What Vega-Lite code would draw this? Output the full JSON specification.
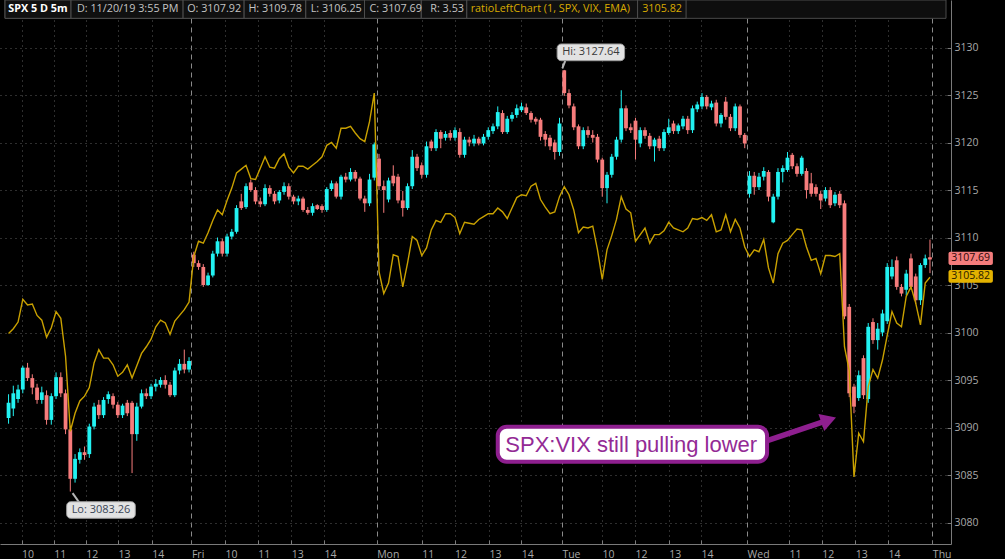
{
"$schema": "https://vega.github.io/schema/vega-lite/v6.json",
"width": 951, "height": 544,
"autosize": {"type": "none"},
"padding": {"left": 0, "top": 0, "right": 54, "bottom": 15},
"background": "#000000",
"view": {"stroke": null, "fill": "#000000"},
"datasets": {
"bars": [
{"j":0,"o":3091.0,"h":3093.5,"l":3090.4,"c":3092.6,"r":3099.9},
{"j":1,"o":3092.0,"h":3094.4,"l":3091.2,"c":3093.6,"r":3100.4},
{"j":2,"o":3093.0,"h":3094.5,"l":3092.6,"c":3094.0,"r":3101.1},
{"j":3,"o":3094.0,"h":3096.5,"l":3093.6,"c":3096.3,"r":3103.5},
{"j":4,"o":3096.3,"h":3096.8,"l":3094.9,"c":3095.2,"r":3102.9},
{"j":5,"o":3095.2,"h":3095.6,"l":3093.5,"c":3094.2,"r":3103.0},
{"j":6,"o":3094.2,"h":3094.6,"l":3092.5,"c":3092.9,"r":3101.8},
{"j":7,"o":3092.9,"h":3094.3,"l":3092.5,"c":3093.7,"r":3101.3},
{"j":8,"o":3093.4,"h":3093.9,"l":3090.3,"c":3090.8,"r":3099.5},
{"j":9,"o":3090.8,"h":3093.6,"l":3090.3,"c":3093.3,"r":3100.5},
{"j":10,"o":3093.3,"h":3095.8,"l":3093.0,"c":3095.3,"r":3102.2},
{"j":11,"o":3095.3,"h":3095.8,"l":3093.2,"c":3093.6,"r":3101.5},
{"j":12,"o":3093.6,"h":3094.0,"l":3089.3,"c":3089.8,"r":3097.5},
{"j":13,"o":3089.8,"h":3090.2,"l":3083.26,"c":3084.6,"r":3089.6},
{"j":14,"o":3084.6,"h":3087.2,"l":3084.2,"c":3086.7,"r":3091.5},
{"j":15,"o":3086.6,"h":3087.8,"l":3086.2,"c":3087.4,"r":3092.8},
{"j":16,"o":3087.4,"h":3088.0,"l":3086.6,"c":3087.1,"r":3093.3},
{"j":17,"o":3087.2,"h":3090.4,"l":3086.8,"c":3090.1,"r":3094.2},
{"j":18,"o":3090.1,"h":3092.6,"l":3089.8,"c":3092.2,"r":3096.8},
{"j":19,"o":3092.4,"h":3092.9,"l":3090.9,"c":3091.3,"r":3098.2},
{"j":20,"o":3091.3,"h":3093.2,"l":3091.0,"c":3092.9,"r":3097.3},
{"j":21,"o":3093.0,"h":3093.8,"l":3092.5,"c":3093.5,"r":3097.3},
{"j":22,"o":3093.3,"h":3093.6,"l":3092.0,"c":3092.4,"r":3096.6},
{"j":23,"o":3092.4,"h":3092.7,"l":3091.0,"c":3091.3,"r":3095.4},
{"j":24,"o":3091.3,"h":3092.5,"l":3091.0,"c":3092.3,"r":3095.8},
{"j":25,"o":3092.6,"h":3092.9,"l":3091.2,"c":3091.5,"r":3096.6},
{"j":26,"o":3092.6,"h":3092.8,"l":3085.2,"c":3089.3,"r":3095.2},
{"j":27,"o":3089.3,"h":3092.6,"l":3088.6,"c":3092.2,"r":3096.5},
{"j":28,"o":3092.2,"h":3094.0,"l":3092.0,"c":3093.6,"r":3097.8},
{"j":29,"o":3093.6,"h":3094.1,"l":3093.0,"c":3093.3,"r":3098.5},
{"j":30,"o":3093.3,"h":3094.6,"l":3093.0,"c":3094.3,"r":3099.3},
{"j":31,"o":3094.3,"h":3095.1,"l":3093.8,"c":3094.6,"r":3100.6},
{"j":32,"o":3094.5,"h":3095.3,"l":3094.2,"c":3095.0,"r":3101.3},
{"j":33,"o":3095.0,"h":3095.5,"l":3094.1,"c":3094.5,"r":3101.0},
{"j":34,"o":3094.5,"h":3094.8,"l":3093.2,"c":3093.4,"r":3099.8},
{"j":35,"o":3093.4,"h":3096.3,"l":3093.2,"c":3096.0,"r":3101.2},
{"j":36,"o":3096.0,"h":3097.2,"l":3095.6,"c":3096.7,"r":3101.8},
{"j":37,"o":3096.7,"h":3098.2,"l":3095.7,"c":3096.1,"r":3102.4},
{"j":38,"o":3096.1,"h":3097.4,"l":3095.8,"c":3097.0,"r":3103.2},
{"j":39,"o":3108.2,"h":3108.5,"l":3106.9,"c":3107.3,"r":3108.0},
{"j":40,"o":3107.3,"h":3107.6,"l":3106.6,"c":3106.9,"r":3109.6},
{"j":41,"o":3106.9,"h":3107.2,"l":3104.8,"c":3105.0,"r":3109.4},
{"j":42,"o":3105.0,"h":3106.3,"l":3104.9,"c":3106.0,"r":3110.5},
{"j":43,"o":3106.0,"h":3108.6,"l":3105.8,"c":3108.3,"r":3111.8},
{"j":44,"o":3108.3,"h":3110.0,"l":3108.0,"c":3109.6,"r":3112.9},
{"j":45,"o":3109.6,"h":3109.9,"l":3108.0,"c":3108.3,"r":3112.4},
{"j":46,"o":3108.3,"h":3110.4,"l":3108.0,"c":3110.1,"r":3113.9},
{"j":47,"o":3110.1,"h":3110.9,"l":3109.8,"c":3110.6,"r":3115.2},
{"j":48,"o":3110.6,"h":3113.4,"l":3110.4,"c":3113.1,"r":3116.8},
{"j":49,"o":3113.8,"h":3114.6,"l":3112.9,"c":3113.1,"r":3117.2},
{"j":50,"o":3113.2,"h":3115.7,"l":3113.0,"c":3115.4,"r":3117.6},
{"j":51,"o":3115.8,"h":3116.1,"l":3114.8,"c":3115.0,"r":3116.2},
{"j":52,"o":3115.0,"h":3115.3,"l":3113.5,"c":3113.8,"r":3116.1},
{"j":53,"o":3113.8,"h":3114.2,"l":3113.2,"c":3113.5,"r":3117.3},
{"j":54,"o":3113.5,"h":3115.6,"l":3113.3,"c":3115.2,"r":3118.5},
{"j":55,"o":3115.2,"h":3115.5,"l":3114.3,"c":3114.6,"r":3117.4},
{"j":56,"o":3114.6,"h":3114.9,"l":3113.5,"c":3113.8,"r":3117.3},
{"j":57,"o":3113.9,"h":3115.0,"l":3113.6,"c":3114.8,"r":3118.3},
{"j":58,"o":3114.8,"h":3115.8,"l":3114.5,"c":3115.4,"r":3118.8},
{"j":59,"o":3115.4,"h":3115.7,"l":3114.0,"c":3114.3,"r":3117.4},
{"j":60,"o":3114.3,"h":3114.5,"l":3113.5,"c":3113.8,"r":3116.8},
{"j":61,"o":3113.8,"h":3114.4,"l":3113.4,"c":3114.1,"r":3117.5},
{"j":62,"o":3114.1,"h":3114.3,"l":3112.7,"c":3112.9,"r":3117.5},
{"j":63,"o":3112.9,"h":3113.2,"l":3112.4,"c":3112.6,"r":3117.2},
{"j":64,"o":3112.6,"h":3113.6,"l":3112.3,"c":3113.3,"r":3117.6},
{"j":65,"o":3113.4,"h":3113.5,"l":3112.9,"c":3113.0,"r":3118.0},
{"j":66,"o":3113.3,"h":3113.5,"l":3112.6,"c":3112.9,"r":3118.5},
{"j":67,"o":3112.9,"h":3115.3,"l":3112.7,"c":3115.1,"r":3119.7},
{"j":68,"o":3115.1,"h":3116.0,"l":3114.9,"c":3115.7,"r":3120.0},
{"j":69,"o":3115.7,"h":3115.9,"l":3114.1,"c":3114.3,"r":3119.4},
{"j":70,"o":3114.3,"h":3116.6,"l":3114.0,"c":3116.4,"r":3121.5},
{"j":71,"o":3116.4,"h":3116.8,"l":3115.8,"c":3116.1,"r":3121.5},
{"j":72,"o":3116.1,"h":3117.3,"l":3115.9,"c":3116.9,"r":3121.7},
{"j":73,"o":3116.9,"h":3117.1,"l":3115.9,"c":3116.2,"r":3121.0},
{"j":74,"o":3116.2,"h":3116.4,"l":3113.9,"c":3114.1,"r":3120.4},
{"j":75,"o":3114.1,"h":3114.4,"l":3112.7,"c":3113.6,"r":3120.1},
{"j":76,"o":3113.6,"h":3116.7,"l":3113.3,"c":3116.1,"r":3122.2},
{"j":77,"o":3116.3,"h":3120.0,"l":3116.0,"c":3119.8,"r":3125.2},
{"j":78,"o":3118.3,"h":3118.8,"l":3115.0,"c":3115.4,"r":3106.4},
{"j":79,"o":3115.4,"h":3116.0,"l":3112.6,"c":3115.0,"r":3104.1},
{"j":80,"o":3114.0,"h":3116.3,"l":3113.7,"c":3116.0,"r":3105.2},
{"j":81,"o":3116.5,"h":3117.6,"l":3115.4,"c":3115.7,"r":3108.2},
{"j":82,"o":3116.4,"h":3116.7,"l":3113.6,"c":3113.9,"r":3108.0},
{"j":83,"o":3113.9,"h":3114.9,"l":3112.2,"c":3113.1,"r":3104.8},
{"j":84,"o":3113.1,"h":3115.7,"l":3112.9,"c":3115.4,"r":3107.3},
{"j":85,"o":3115.4,"h":3119.2,"l":3115.1,"c":3118.5,"r":3110.1},
{"j":86,"o":3118.5,"h":3118.8,"l":3117.0,"c":3117.3,"r":3109.7},
{"j":87,"o":3117.6,"h":3117.9,"l":3116.2,"c":3116.6,"r":3108.1},
{"j":88,"o":3116.6,"h":3120.1,"l":3116.3,"c":3119.6,"r":3108.9},
{"j":89,"o":3120.1,"h":3120.3,"l":3119.1,"c":3119.4,"r":3110.8},
{"j":90,"o":3119.4,"h":3121.4,"l":3119.1,"c":3121.1,"r":3111.8},
{"j":91,"o":3121.1,"h":3121.3,"l":3119.4,"c":3120.4,"r":3111.6},
{"j":92,"o":3120.5,"h":3121.2,"l":3120.2,"c":3120.9,"r":3112.5},
{"j":93,"o":3121.0,"h":3121.3,"l":3120.2,"c":3120.5,"r":3112.5},
{"j":94,"o":3120.5,"h":3121.6,"l":3120.2,"c":3121.3,"r":3112.1},
{"j":95,"o":3121.1,"h":3121.5,"l":3118.4,"c":3118.7,"r":3110.4},
{"j":96,"o":3118.7,"h":3120.6,"l":3118.4,"c":3120.3,"r":3111.6},
{"j":97,"o":3120.3,"h":3120.6,"l":3119.6,"c":3120.0,"r":3111.5},
{"j":98,"o":3119.9,"h":3120.8,"l":3119.6,"c":3120.4,"r":3111.4},
{"j":99,"o":3120.4,"h":3120.6,"l":3119.7,"c":3119.9,"r":3111.9},
{"j":100,"o":3119.9,"h":3120.9,"l":3119.7,"c":3120.6,"r":3112.2},
{"j":101,"o":3120.6,"h":3121.6,"l":3120.3,"c":3121.3,"r":3112.5},
{"j":102,"o":3121.2,"h":3122.0,"l":3120.9,"c":3121.7,"r":3112.5},
{"j":103,"o":3121.7,"h":3123.8,"l":3121.4,"c":3123.2,"r":3113.1},
{"j":104,"o":3123.1,"h":3123.4,"l":3120.9,"c":3121.1,"r":3112.7},
{"j":105,"o":3121.1,"h":3122.8,"l":3120.9,"c":3122.5,"r":3112.0},
{"j":106,"o":3122.5,"h":3123.2,"l":3122.2,"c":3122.9,"r":3113.1},
{"j":107,"o":3122.9,"h":3124.0,"l":3122.6,"c":3123.6,"r":3114.2},
{"j":108,"o":3123.4,"h":3124.2,"l":3123.2,"c":3123.8,"r":3114.5},
{"j":109,"o":3123.7,"h":3124.1,"l":3122.9,"c":3123.1,"r":3114.4},
{"j":110,"o":3123.1,"h":3123.3,"l":3122.1,"c":3122.4,"r":3115.4},
{"j":111,"o":3122.5,"h":3122.7,"l":3121.9,"c":3122.2,"r":3115.7},
{"j":112,"o":3122.4,"h":3122.6,"l":3120.2,"c":3120.6,"r":3114.0},
{"j":113,"o":3120.9,"h":3121.2,"l":3119.6,"c":3120.3,"r":3113.2},
{"j":114,"o":3120.5,"h":3120.8,"l":3119.2,"c":3119.6,"r":3112.5},
{"j":115,"o":3120.0,"h":3120.3,"l":3118.2,"c":3119.0,"r":3112.7},
{"j":116,"o":3119.0,"h":3122.6,"l":3118.6,"c":3122.0,"r":3114.3},
{"j":117,"o":3127.6,"h":3127.64,"l":3124.9,"c":3125.2,"r":3115.35},
{"j":118,"o":3125.2,"h":3125.6,"l":3123.6,"c":3123.9,"r":3114.5},
{"j":119,"o":3123.8,"h":3124.1,"l":3121.3,"c":3121.6,"r":3112.9},
{"j":120,"o":3121.7,"h":3121.9,"l":3119.3,"c":3119.6,"r":3110.5},
{"j":121,"o":3119.6,"h":3121.6,"l":3119.3,"c":3121.3,"r":3111.1},
{"j":122,"o":3121.3,"h":3121.7,"l":3120.5,"c":3120.8,"r":3111.0},
{"j":123,"o":3120.8,"h":3121.3,"l":3120.0,"c":3120.5,"r":3111.2},
{"j":124,"o":3120.6,"h":3120.9,"l":3117.9,"c":3118.2,"r":3108.7},
{"j":125,"o":3118.2,"h":3118.4,"l":3114.3,"c":3115.2,"r":3105.6},
{"j":126,"o":3115.2,"h":3116.9,"l":3113.6,"c":3116.6,"r":3108.7},
{"j":127,"o":3116.6,"h":3118.8,"l":3116.3,"c":3118.5,"r":3110.2},
{"j":128,"o":3118.5,"h":3120.6,"l":3118.2,"c":3120.3,"r":3111.9},
{"j":129,"o":3120.3,"h":3125.5,"l":3120.0,"c":3123.6,"r":3114.3},
{"j":130,"o":3123.6,"h":3123.9,"l":3121.2,"c":3121.5,"r":3113.0},
{"j":131,"o":3121.6,"h":3122.0,"l":3121.0,"c":3121.3,"r":3112.6},
{"j":132,"o":3122.3,"h":3122.6,"l":3118.2,"c":3120.3,"r":3109.6},
{"j":133,"o":3119.9,"h":3121.6,"l":3119.5,"c":3121.3,"r":3110.3},
{"j":134,"o":3121.3,"h":3121.6,"l":3120.4,"c":3120.7,"r":3111.0},
{"j":135,"o":3120.7,"h":3121.0,"l":3119.3,"c":3119.6,"r":3109.4},
{"j":136,"o":3119.6,"h":3120.5,"l":3118.0,"c":3120.3,"r":3110.3},
{"j":137,"o":3120.4,"h":3120.7,"l":3119.1,"c":3119.4,"r":3110.3},
{"j":138,"o":3119.4,"h":3121.4,"l":3119.1,"c":3121.1,"r":3110.7},
{"j":139,"o":3121.0,"h":3122.5,"l":3120.8,"c":3121.6,"r":3111.6},
{"j":140,"o":3122.0,"h":3122.3,"l":3120.9,"c":3121.2,"r":3111.0},
{"j":141,"o":3121.2,"h":3122.0,"l":3120.9,"c":3121.8,"r":3110.8},
{"j":142,"o":3121.7,"h":3122.8,"l":3121.4,"c":3122.5,"r":3110.6},
{"j":143,"o":3122.5,"h":3122.8,"l":3120.9,"c":3121.3,"r":3111.0},
{"j":144,"o":3121.3,"h":3123.9,"l":3121.0,"c":3123.6,"r":3112.0},
{"j":145,"o":3123.5,"h":3124.3,"l":3123.2,"c":3124.0,"r":3111.9},
{"j":146,"o":3123.8,"h":3125.2,"l":3123.5,"c":3124.8,"r":3112.1},
{"j":147,"o":3124.8,"h":3125.0,"l":3123.5,"c":3123.8,"r":3111.8},
{"j":148,"o":3123.7,"h":3124.4,"l":3123.4,"c":3124.1,"r":3112.4},
{"j":149,"o":3124.2,"h":3124.5,"l":3121.7,"c":3122.0,"r":3110.6},
{"j":150,"o":3122.0,"h":3123.1,"l":3121.6,"c":3122.9,"r":3110.8},
{"j":151,"o":3124.3,"h":3124.8,"l":3122.4,"c":3122.7,"r":3112.4},
{"j":152,"o":3122.7,"h":3123.0,"l":3121.2,"c":3121.5,"r":3110.6},
{"j":153,"o":3121.5,"h":3124.1,"l":3121.2,"c":3123.8,"r":3111.9},
{"j":154,"o":3123.8,"h":3124.0,"l":3120.5,"c":3120.8,"r":3111.0},
{"j":155,"o":3120.8,"h":3121.0,"l":3119.4,"c":3119.9,"r":3109.0},
{"j":156,"o":3114.6,"h":3117.0,"l":3114.2,"c":3116.5,"r":3108.0},
{"j":157,"o":3116.5,"h":3116.9,"l":3114.5,"c":3115.3,"r":3108.7},
{"j":158,"o":3115.3,"h":3116.8,"l":3115.0,"c":3116.4,"r":3108.5},
{"j":159,"o":3116.4,"h":3117.4,"l":3116.0,"c":3117.0,"r":3109.8},
{"j":160,"o":3116.9,"h":3117.1,"l":3113.8,"c":3114.3,"r":3106.8},
{"j":161,"o":3111.6,"h":3114.6,"l":3111.5,"c":3114.3,"r":3105.2},
{"j":162,"o":3114.3,"h":3117.3,"l":3114.0,"c":3116.9,"r":3108.3},
{"j":163,"o":3116.9,"h":3117.6,"l":3115.8,"c":3117.3,"r":3109.4},
{"j":164,"o":3117.1,"h":3119.0,"l":3116.9,"c":3118.4,"r":3109.7},
{"j":165,"o":3118.7,"h":3118.9,"l":3117.2,"c":3117.5,"r":3110.3},
{"j":166,"o":3117.5,"h":3117.8,"l":3116.4,"c":3116.7,"r":3110.9},
{"j":167,"o":3116.7,"h":3118.6,"l":3116.5,"c":3118.4,"r":3110.8},
{"j":168,"o":3117.0,"h":3117.3,"l":3114.1,"c":3115.0,"r":3109.0},
{"j":169,"o":3115.7,"h":3116.8,"l":3114.3,"c":3114.6,"r":3107.6},
{"j":170,"o":3115.3,"h":3115.6,"l":3114.3,"c":3114.6,"r":3107.8},
{"j":171,"o":3114.6,"h":3114.9,"l":3113.0,"c":3113.9,"r":3106.2},
{"j":172,"o":3114.1,"h":3115.3,"l":3113.8,"c":3115.0,"r":3108.1},
{"j":173,"o":3115.0,"h":3115.3,"l":3113.1,"c":3113.4,"r":3108.1},
{"j":174,"o":3113.6,"h":3114.8,"l":3113.3,"c":3114.5,"r":3108.0},
{"j":175,"o":3114.6,"h":3114.9,"l":3113.1,"c":3113.4,"r":3108.3},
{"j":176,"o":3113.6,"h":3113.9,"l":3101.4,"c":3101.7,"r":3098.5},
{"j":177,"o":3102.7,"h":3103.0,"l":3093.2,"c":3093.6,"r":3096.0},
{"j":178,"o":3094.3,"h":3094.6,"l":3091.5,"c":3092.2,"r":3084.8},
{"j":179,"o":3093.1,"h":3096.0,"l":3092.8,"c":3095.5,"r":3089.4},
{"j":180,"o":3097.3,"h":3097.6,"l":3093.0,"c":3093.4,"r":3088.5},
{"j":181,"o":3093.0,"h":3101.0,"l":3092.6,"c":3100.6,"r":3094.3},
{"j":182,"o":3101.1,"h":3101.5,"l":3098.8,"c":3099.2,"r":3096.1},
{"j":183,"o":3099.2,"h":3101.0,"l":3098.2,"c":3100.4,"r":3095.2},
{"j":184,"o":3100.0,"h":3102.4,"l":3099.6,"c":3102.0,"r":3097.1},
{"j":185,"o":3101.2,"h":3107.3,"l":3100.9,"c":3106.9,"r":3099.7},
{"j":186,"o":3105.9,"h":3107.7,"l":3105.6,"c":3106.9,"r":3102.2},
{"j":187,"o":3107.6,"h":3108.0,"l":3104.5,"c":3104.8,"r":3101.0},
{"j":188,"o":3104.8,"h":3105.1,"l":3103.8,"c":3104.1,"r":3100.6},
{"j":189,"o":3104.5,"h":3106.6,"l":3103.9,"c":3106.2,"r":3103.8},
{"j":190,"o":3107.8,"h":3108.3,"l":3104.5,"c":3104.8,"r":3104.8},
{"j":191,"o":3105.9,"h":3106.2,"l":3103.0,"c":3103.4,"r":3103.1},
{"j":192,"o":3103.4,"h":3107.3,"l":3102.9,"c":3107.1,"r":3100.8},
{"j":193,"o":3107.1,"h":3108.2,"l":3106.8,"c":3107.8,"r":3105.2},
{"j":194,"o":3107.92,"h":3109.78,"l":3106.25,"c":3107.69,"r":3105.82}
],
"hdr": [
{"t":"SPX 5 D 5m","a":-0.75,"b":13.15,"tx":-0.05,"k":"b"},
{"t":"D: 11/20/19 3:55 PM","a":13.15,"b":36.75,"tx":14.4,"k":"i"},
{"t":"O: 3107.92","a":36.75,"b":49.6,"tx":37.6,"k":"i"},
{"t":"H: 3109.78","a":49.6,"b":62.58,"tx":50.5,"k":"i"},
{"t":"L: 3106.25","a":62.58,"b":74.94,"tx":63.6,"k":"i"},
{"t":"C: 3107.69","a":74.94,"b":86.9,"tx":76.0,"k":"i"},
{"t":"R: 3.53","a":86.9,"b":96.48,"tx":88.8,"k":"i"},
{"t":"ratioLeftChart (1, SPX, VIX, EMA)","a":96.48,"b":132.44,"tx":97.3,"k":"g"},
{"t":"3105.82","a":132.44,"b":142.65,"tx":133.4,"k":"g"}
]
},
"layer": [
{
"data": {"name": "bars"},
"mark": {"type": "rule", "strokeWidth": 1},
"encoding": {
"x": {"field": "j", "type": "quantitative",
 "scale": {"domain": [-0.75, 197.375], "nice": false, "zero": false},
 "axis": {
  "orient": "bottom", "title": null, "tickCount": 60,
  "values": [2.73, 9.52, 16.27, 23.06, 30.15, 38.5, 45.56, 52.44, 59.52, 66.4, 77.5, 87.02, 93.9, 101.13, 107.94, 116.5, 124.94, 131.9, 138.98, 145.77, 155.5, 164.31, 171.19, 178.27, 185.15, 194.5],
  "labelExpr": "datum.value==2.73?'10':datum.value==9.52?'11':datum.value==16.27?'12':datum.value==23.06?'13':datum.value==30.15?'14':datum.value==38.5?'Fri':datum.value==45.56?'10':datum.value==52.44?'11':datum.value==59.52?'13':datum.value==66.4?'14':datum.value==77.5?'Mon':datum.value==87.02?'11':datum.value==93.9?'12':datum.value==101.13?'13':datum.value==107.94?'14':datum.value==116.5?'Tue':datum.value==124.94?'10':datum.value==131.9?'12':datum.value==138.98?'13':datum.value==145.77?'14':datum.value==155.5?'Wed':datum.value==164.31?'11':datum.value==171.19?'12':datum.value==178.27?'13':datum.value==185.15?'14':'Thu'",
  "domainColor": "#7a7a7a", "tickColor": "#7a7a7a", "tickSize": -4,
  "labelAlign": "left", "labelColor": "#a8a8a8", "labelFont": "Open Sans", "labelFontSize": 10.5,
  "labelPadding": 9, "labelOverlap": false, "labelBound": false, "labelFlush": false,
  "grid": true,
  "gridColor": {"condition": {"test": "datum.value % 39 == 38.5", "value": "#8a8a8a"}, "value": "#5c5c5c"},
  "gridDash": {"condition": {"test": "datum.value % 39 == 38.5", "value": [5, 4]}, "value": [1, 4]}
 }},
"y": {"field": "l", "type": "quantitative",
 "scale": {"domain": [3077.737, 3135], "nice": false, "zero": false},
 "axis": {
  "orient": "right", "title": null, "format": "d", "tickCount": 30,
  "values": [3080, 3085, 3090, 3095, 3100, 3105, 3110, 3115, 3120, 3125, 3130],
  "domainColor": "#7a7a7a", "tickColor": "#7a7a7a", "tickSize": -4,
  "labelColor": "#a8a8a8", "labelFont": "Open Sans", "labelFontSize": 10.5, "labelPadding": 7,
  "labelBound": false, "labelFlush": false, "labelOverlap": false,
  "grid": true, "gridColor": "#5c5c5c", "gridDash": [1, 4]
 }},
"y2": {"field": "h"},
"color": {"condition": {"test": "datum.c >= datum.o", "value": "#22f2f2"}, "value": "#f77c7c"}
}
},
{
"data": {"name": "bars"},
"mark": {"type": "bar", "size": 3.8},
"encoding": {
"x": {"field": "j", "type": "quantitative"},
"y": {"field": "o", "type": "quantitative"},
"y2": {"field": "c"},
"color": {"condition": {"test": "datum.c >= datum.o", "value": "#22f2f2"}, "value": "#f77c7c"}
}
},
{
"data": {"name": "bars"},
"mark": {"type": "line", "color": "#c9a100", "strokeWidth": 1.4},
"encoding": {
"x": {"field": "j", "type": "quantitative"},
"y": {"field": "r", "type": "quantitative"}
}
},
{
"data": {"values": [{}]},
"mark": {"type": "rect", "fill": "#0e0e0e", "stroke": "#4a4a4a", "strokeWidth": 1},
"encoding": {
"x": {"datum": -0.75, "type": "quantitative"},
"x2": {"datum": 197.375},
"y": {"datum": 3135.0, "type": "quantitative"},
"y2": {"datum": 3133.07}
}
},
{
"data": {"name": "hdr"},
"mark": {"type": "rect", "fill": "#101010", "stroke": "#4e4e4e", "strokeWidth": 1},
"encoding": {
"x": {"field": "a", "type": "quantitative"},
"x2": {"field": "b"},
"y": {"datum": 3135.0, "type": "quantitative"},
"y2": {"datum": 3133.07}
}
},
{
"data": {"name": "hdr"},
"transform": [{"filter": "datum.k != 'b'"}],
"mark": {"type": "text", "align": "left", "baseline": "middle", "font": "Open Sans", "fontSize": 10.8},
"encoding": {
"x": {"field": "tx", "type": "quantitative"},
"y": {"datum": 3134.1, "type": "quantitative"},
"text": {"field": "t"},
"color": {"condition": {"test": "datum.k == 'g'", "value": "#d9aa00"}, "value": "#c4c4c4"}
}
},
{
"data": {"name": "hdr"},
"transform": [{"filter": "datum.k == 'b'"}],
"mark": {"type": "text", "align": "left", "baseline": "middle", "font": "Open Sans", "fontSize": 10.8, "fontWeight": "bold", "color": "#ffffff"},
"encoding": {
"x": {"field": "tx", "type": "quantitative"},
"y": {"datum": 3134.1, "type": "quantitative"},
"text": {"field": "t"}
}
},
{
"data": {"values": [{"t": "Hi: 3127.64"}]},
"mark": {"type": "rule", "color": "#b5b5b5", "strokeWidth": 2},
"encoding": {
"x": {"datum": 117.2, "type": "quantitative"},
"x2": {"datum": 116.6},
"y": {"datum": 3128.6, "type": "quantitative"},
"y2": {"datum": 3127.8}
}
},
{
"data": {"values": [{"t": "Hi: 3127.64"}]},
"mark": {"type": "rect", "fill": "#e2e2e2", "stroke": "#9a9a9a", "strokeWidth": 1, "cornerRadius": 4},
"encoding": {
"x": {"datum": 115.5, "type": "quantitative"},
"x2": {"datum": 129.7},
"y": {"datum": 3130.37, "type": "quantitative"},
"y2": {"datum": 3128.61}
}
},
{
"data": {"values": [{"t": "Hi: 3127.64"}]},
"mark": {"type": "text", "align": "center", "baseline": "middle", "font": "Open Sans", "fontSize": 11, "color": "#3a3a3a"},
"encoding": {
"x": {"datum": 122.6, "type": "quantitative"},
"y": {"datum": 3129.5, "type": "quantitative"},
"text": {"field": "t"}
}
},
{
"data": {"values": [{"t": "Lo: 3083.26"}]},
"mark": {"type": "rule", "color": "#b5b5b5", "strokeWidth": 2},
"encoding": {
"x": {"datum": 13.48, "type": "quantitative"},
"x2": {"datum": 14.9},
"y": {"datum": 3083.1, "type": "quantitative"},
"y2": {"datum": 3082.1}
}
},
{
"data": {"values": [{"t": "Lo: 3083.26"}]},
"mark": {"type": "rect", "fill": "#e2e2e2", "stroke": "#9a9a9a", "strokeWidth": 1, "cornerRadius": 4},
"encoding": {
"x": {"datum": 12.23, "type": "quantitative"},
"x2": {"datum": 26.69},
"y": {"datum": 3082.19, "type": "quantitative"},
"y2": {"datum": 3080.44}
}
},
{
"data": {"values": [{"t": "Lo: 3083.26"}]},
"mark": {"type": "text", "align": "center", "baseline": "middle", "font": "Open Sans", "fontSize": 11, "color": "#3a4656"},
"encoding": {
"x": {"datum": 19.46, "type": "quantitative"},
"y": {"datum": 3081.3, "type": "quantitative"},
"text": {"field": "t"}
}
},
{
"data": {"values": [{}]},
"mark": {"type": "rule", "color": "#8e1f8f", "strokeWidth": 5.5},
"encoding": {
"x": {"datum": 159.6, "type": "quantitative"},
"x2": {"datum": 171.96},
"y": {"datum": 3088.6, "type": "quantitative"},
"y2": {"datum": 3090.68}
}
},
{
"data": {"values": [{}]},
"mark": {"type": "point", "shape": "triangle-right", "size": 320, "angle": -19, "filled": true, "color": "#8e1f8f", "opacity": 1},
"encoding": {
"x": {"datum": 172.67, "type": "quantitative"},
"y": {"datum": 3090.8, "type": "quantitative"}
}
},
{
"data": {"values": [{}]},
"mark": {"type": "rect", "fill": "#ffffff", "stroke": "#8e1f8f", "strokeWidth": 4, "cornerRadius": 9},
"encoding": {
"x": {"datum": 103.0, "type": "quantitative"},
"x2": {"datum": 159.7},
"y": {"datum": 3090.08, "type": "quantitative"},
"y2": {"datum": 3086.4}
}
},
{
"data": {"values": [{"t": "SPX:VIX still pulling lower"}]},
"mark": {"type": "text", "align": "center", "baseline": "alphabetic", "font": "Liberation Sans", "fontSize": 22, "color": "#932a95"},
"encoding": {
"x": {"datum": 131.1, "type": "quantitative"},
"y": {"datum": 3087.45, "type": "quantitative"},
"text": {"field": "t"}
}
},
{
"data": {"values": [{"t": "3107.69"}]},
"mark": {"type": "rect", "fill": "#f47c7c", "cornerRadius": 2},
"encoding": {
"x": {"datum": 197.9, "type": "quantitative"},
"x2": {"datum": 207.25},
"y": {"datum": 3108.5, "type": "quantitative"},
"y2": {"datum": 3107.1}
}
},
{
"data": {"values": [{"t": "3107.69"}]},
"mark": {"type": "text", "align": "center", "baseline": "middle", "font": "Open Sans", "fontSize": 10.5, "color": "#2a0808"},
"encoding": {
"x": {"datum": 202.57, "type": "quantitative"},
"y": {"datum": 3107.8, "type": "quantitative"},
"text": {"field": "t"}
}
},
{
"data": {"values": [{"t": "3105.82"}]},
"mark": {"type": "rect", "fill": "#e3b200", "cornerRadius": 2},
"encoding": {
"x": {"datum": 197.9, "type": "quantitative"},
"x2": {"datum": 207.25},
"y": {"datum": 3106.58, "type": "quantitative"},
"y2": {"datum": 3105.24}
}
},
{
"data": {"values": [{"t": "3105.82"}]},
"mark": {"type": "text", "align": "center", "baseline": "middle", "font": "Open Sans", "fontSize": 10.5, "color": "#2a2000"},
"encoding": {
"x": {"datum": 202.57, "type": "quantitative"},
"y": {"datum": 3105.91, "type": "quantitative"},
"text": {"field": "t"}
}
}
]
}
